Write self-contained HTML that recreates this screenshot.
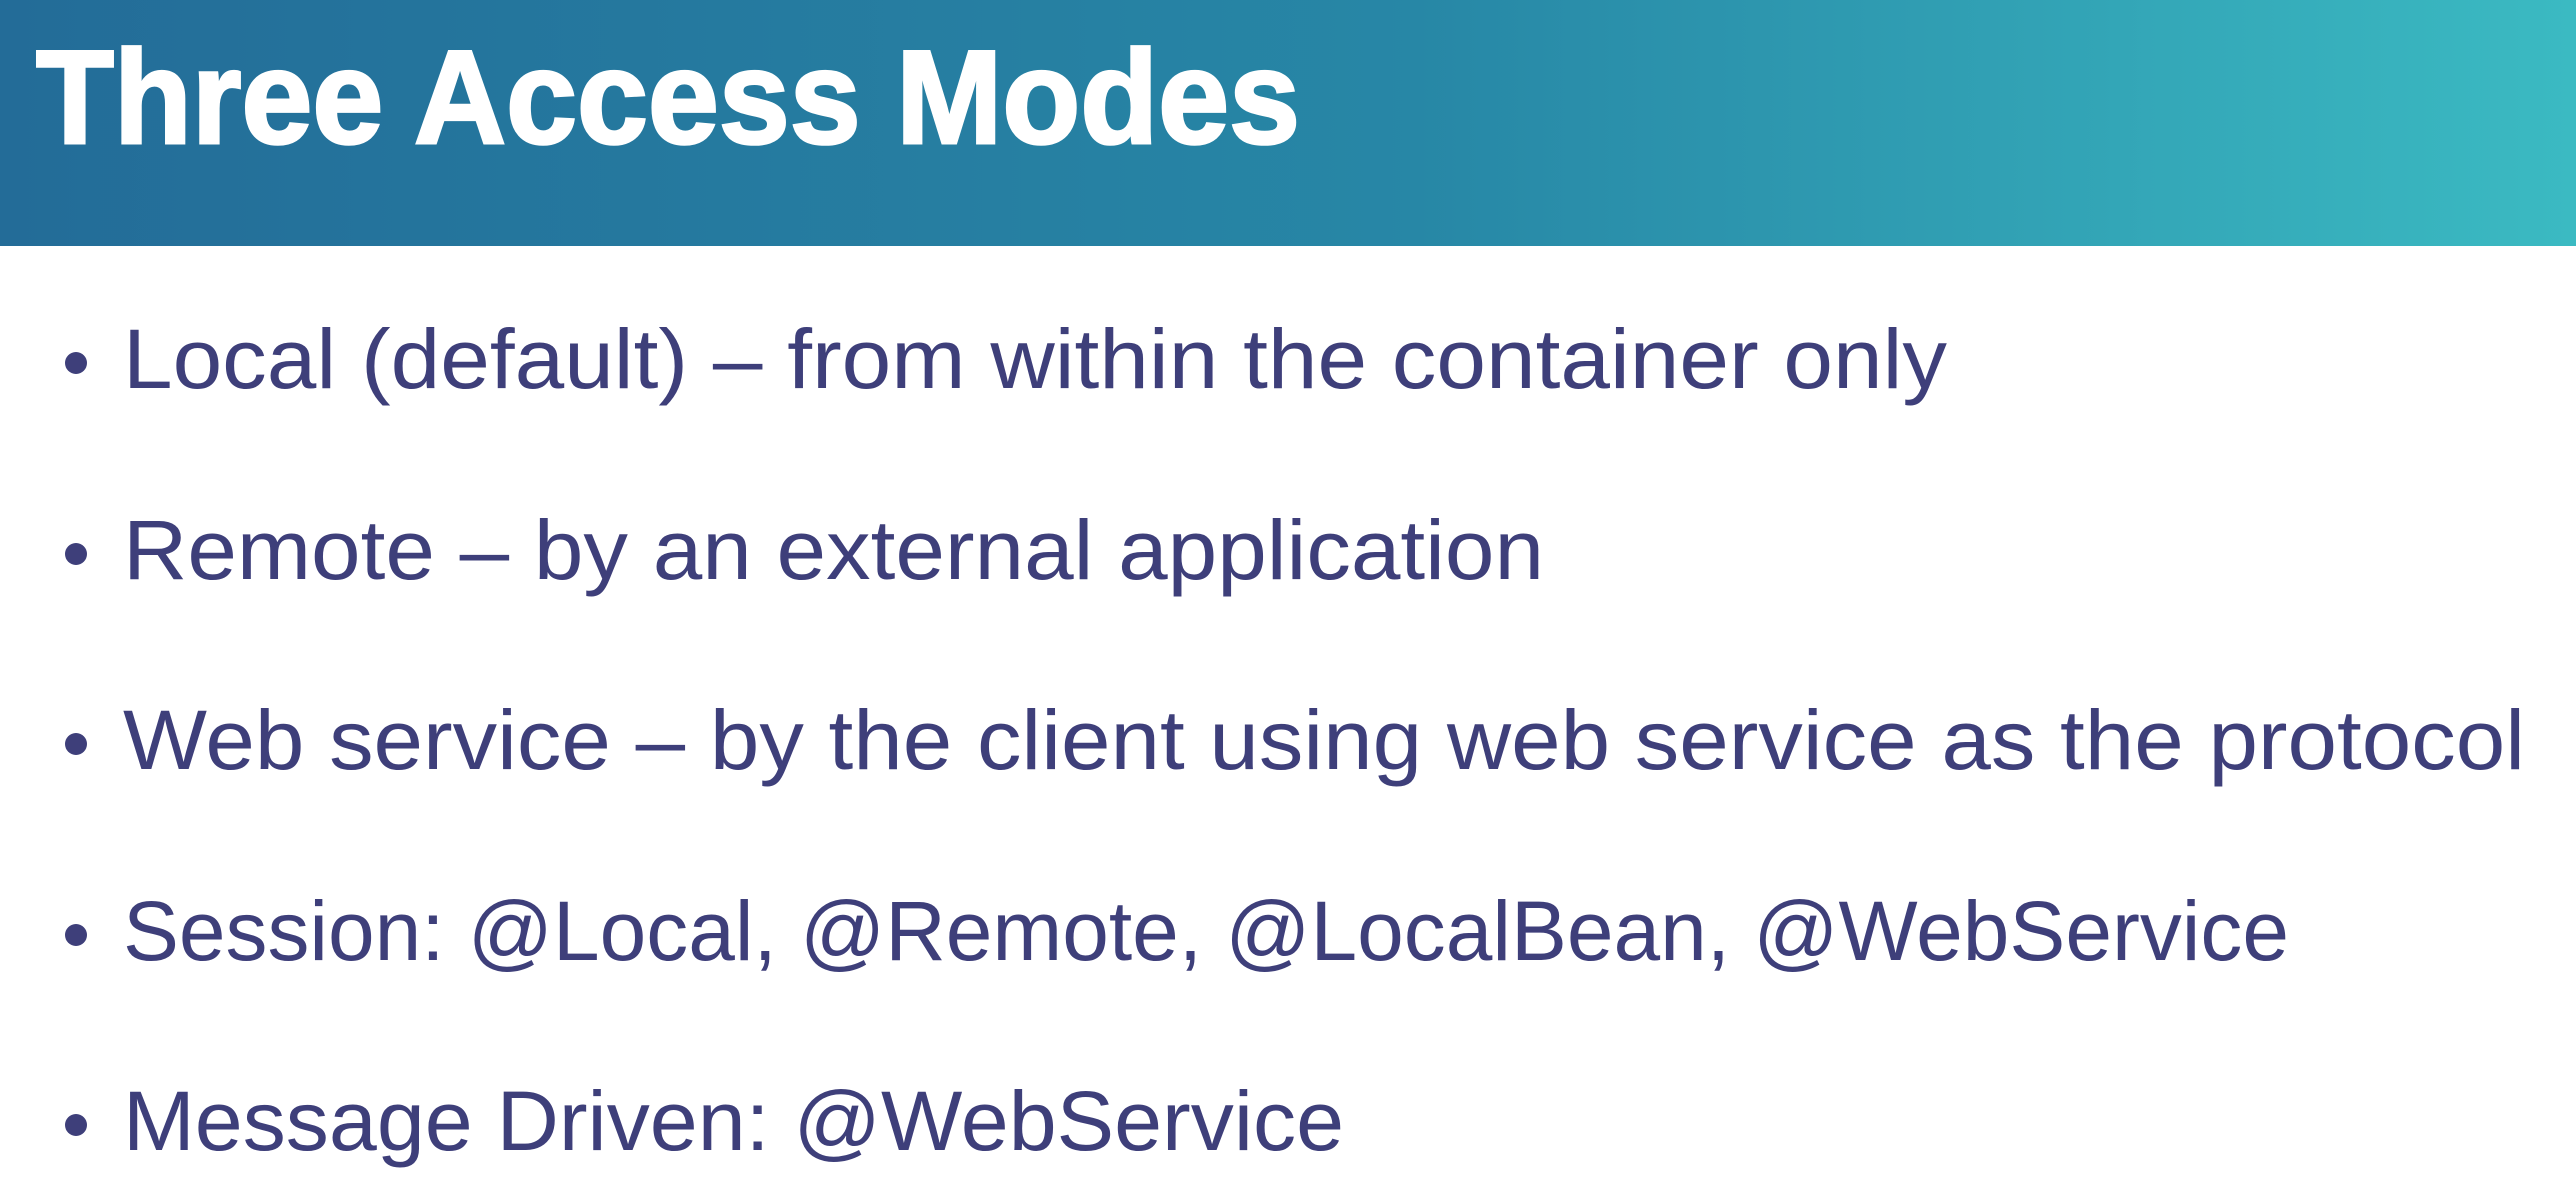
<!DOCTYPE html>
<html><head><meta charset="utf-8"><style>
html,body{margin:0;padding:0;background:#fff;}
svg{display:block;}
</style></head><body>
<svg width="2576" height="1196" viewBox="0 0 2576 1196" xmlns="http://www.w3.org/2000/svg">
<defs><linearGradient id="g" x1="0" y1="0" x2="1" y2="0">
<stop offset="0" stop-color="#236c98"/><stop offset="0.55" stop-color="#2787a6"/><stop offset="1" stop-color="#3bbac2"/></linearGradient></defs>
<rect x="0" y="0" width="2576" height="246" fill="url(#g)"/>
<text x="36" y="143" font-family="Liberation Sans, sans-serif" font-weight="bold" font-size="133" fill="#fff" stroke="#fff" stroke-width="3" textLength="1264" lengthAdjust="spacingAndGlyphs">Three Access Modes</text>
<g font-family="Liberation Sans, sans-serif" font-size="84" fill="#3e3f7a">
<circle cx="76" cy="363" r="11"/>
<text x="123" y="388" textLength="1824" lengthAdjust="spacingAndGlyphs">Local (default) – from within the container only</text>
<circle cx="76" cy="554" r="11"/>
<text x="123" y="579" textLength="1421" lengthAdjust="spacingAndGlyphs">Remote – by an external application</text>
<circle cx="76" cy="744" r="11"/>
<text x="123" y="769" textLength="2402" lengthAdjust="spacingAndGlyphs">Web service – by the client using web service as the protocol</text>
<circle cx="76" cy="935" r="11"/>
<text x="123" y="960" textLength="2166" lengthAdjust="spacingAndGlyphs">Session: @Local, @Remote, @LocalBean, @WebService</text>
<circle cx="76" cy="1125" r="11"/>
<text x="123" y="1150" textLength="1221" lengthAdjust="spacingAndGlyphs">Message Driven: @WebService</text>
</g>
</svg>
</body></html>
